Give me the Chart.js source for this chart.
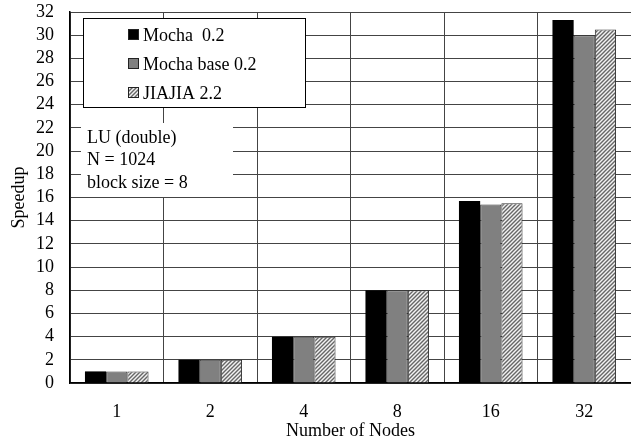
<!DOCTYPE html>
<html>
<head>
<meta charset="utf-8">
<script src="https://cdn.jsdelivr.net/npm/chart.js@4/dist/chart.umd.min.js"></script>
<style>
  html, body { margin: 0; padding: 0; background: #fff; }
  #wrap { width: 631px; height: 446px; position: relative; }
</style>
</head>
<body>
<div id="wrap"><canvas id="chart" width="631" height="446"></canvas></div>
<script>
const nodes = ['1', '2', '4', '8', '16', '32'];
const mocha = [1.0, 2.0, 4.0, 8.0, 15.7, 31.3];
const mochaBase = [1.0, 2.0, 4.0, 8.0, 15.4, 30.0];
const jiajia = [1.0, 2.0, 4.0, 8.0, 15.5, 30.5];
const legendLabels = ['Mocha  0.2', 'Mocha base 0.2', 'JIAJIA 2.2'];
const noteLines = ['LU (double)', 'N = 1024', 'block size = 8'];

const FONT = '"Liberation Serif", serif';
const FS = 18;

// diagonal hatch for the JIAJIA bars
function hatch() {
  const c = document.createElement('canvas');
  c.width = 4; c.height = 4;
  const g = c.getContext('2d');
  g.fillStyle = '#f2f2f2';
  g.fillRect(0, 0, 4, 4);
  g.strokeStyle = '#666';
  g.lineWidth = 1.4;
  g.beginPath();
  g.moveTo(-1, 5); g.lineTo(5, -1);
  g.moveTo(-1, 1); g.lineTo(1, -1);
  g.moveTo(3, 5); g.lineTo(5, 3);
  g.stroke();
  return g.createPattern(c, 'repeat');
}
const hatchFill = hatch();

// legend box + note box drawn in the plot area
const boxes = {
  id: 'boxes',
  afterDatasetsDraw(chart) {
    const ctx = chart.ctx;
    ctx.save();
    // note box (hides grid lines)
    ctx.fillStyle = '#fff';
    ctx.fillRect(81, 123, 152, 74);
    ctx.fillStyle = '#000';
    ctx.font = FS + 'px ' + FONT;
    ctx.textBaseline = 'middle';
    noteLines.forEach((t, i) => ctx.fillText(t, 87, 138 + i * 22.5));
    // legend box
    ctx.fillStyle = '#fff';
    ctx.fillRect(83.5, 18.5, 222, 89);
    ctx.strokeStyle = '#000';
    ctx.lineWidth = 1;
    ctx.strokeRect(83.5, 18.5, 222, 89);
    const fills = ['#000', '#808080', hatchFill];
    legendLabels.forEach((t, i) => {
      const y = 35 + i * 29;
      ctx.fillStyle = fills[i];
      ctx.fillRect(128, y - 6, 11, 11);
      ctx.strokeStyle = '#222';
      ctx.strokeRect(128.5, y - 5.5, 10, 10);
      ctx.fillStyle = '#000';
      ctx.fillText(t, 143, y + 1);
    });
    ctx.restore();
  }
};

new Chart(document.getElementById('chart'), {
  type: 'bar',
  data: {
    labels: nodes,
    datasets: [
      { label: legendLabels[0], data: mocha, backgroundColor: '#000', borderColor: '#000', borderWidth: 0 },
      { label: legendLabels[1], data: mochaBase, backgroundColor: '#808080', borderColor: '#333', borderWidth: 1 },
      { label: legendLabels[2], data: jiajia, backgroundColor: hatchFill, borderColor: '#333', borderWidth: 1 }
    ]
  },
  options: {
    responsive: false,
    animation: false,
    devicePixelRatio: 1,
    layout: { padding: { top: 12, right: 0, left: 8, bottom: 0 } },
    plugins: { legend: { display: false }, tooltip: { enabled: false } },
    datasets: { bar: { categoryPercentage: 0.68, barPercentage: 1.0 } },
    scales: {
      x: {
        grid: { offset: true, color: '#444', lineWidth: 1, drawTicks: false },
        border: { color: '#000', width: 1.5 },
        ticks: { color: '#000', font: { family: FONT, size: FS }, padding: 18 },
        title: { display: true, text: 'Number of Nodes', color: '#000', font: { family: FONT, size: FS }, padding: { top: 0 } },
        afterFit(s) { s.height = 63; s.paddingLeft = 0; s.paddingRight = 0; }
      },
      y: {
        min: 0, max: 32,
        ticks: { stepSize: 2, autoSkip: false, color: '#000', font: { family: FONT, size: FS }, padding: 16 },
        grid: { color: '#444', lineWidth: 1, drawTicks: false },
        border: { color: '#000', width: 1.5 },
        title: { display: true, text: 'Speedup', color: '#000', font: { family: FONT, size: FS }, padding: 0 },
        afterFit(s) { s.width = 62; s.paddingTop = 0; s.paddingBottom = 0; }
      }
    }
  },
  plugins: [boxes]
});
</script>
</body>
</html>
